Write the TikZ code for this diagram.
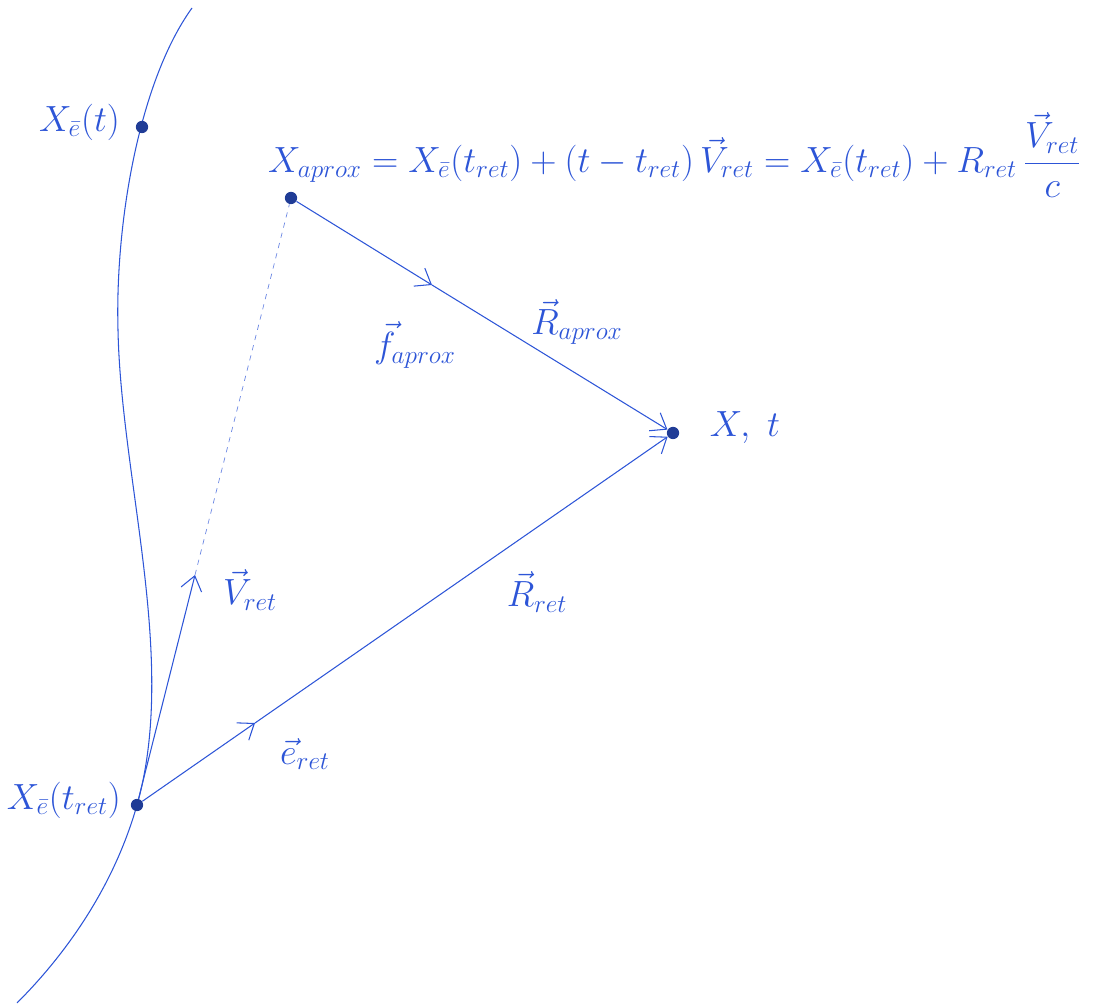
\documentclass[tikz,border=0pt]{standalone}
\usepackage{amsmath}
\definecolor{ink}{RGB}{45,85,215}
\tikzset{
  dot/.style={circle,fill=ink!70!black,inner sep=0pt,minimum size=7pt},
  lbl/.style={text=ink,font=\huge},
  vec/.style={draw=ink,semithick,-{Straight Barb[length=8pt,width=12pt]}},
}
\usetikzlibrary{arrows.meta}
\begin{document}
\begin{tikzpicture}[x=0.02cm,y=-0.02cm]
    \useasboundingbox (0,0) rectangle (1093,1006);
    % world line of the charge
    \draw[ink,semithick] (192,8) .. controls (140,80) and (115,220) .. (118,330)
        .. controls (121,480) and (178,660) .. (137,805)
        .. controls (112,893) and (60,960) .. (17,1003);
    % points
    \node[dot] (xt) at (142,127) {};
    \node[dot] (xap) at (291,198) {};
    \node[dot] (xobs) at (673,433) {};
    \node[dot] (xret) at (137,805) {};
    \coordinate (vtip) at (195,575);
    \coordinate (emid) at (255,723);
    \coordinate (amid) at (432,285);
    % labels
    \node[lbl,anchor=east] (lxt) at (126,122) {$X_{\bar e}(t)$};
    \node[lbl,anchor=east] (lxret) at (127,800) {$X_{\bar e}(t_{ret})$};
    \node[lbl] (lxobs) at (745,428) {$X,\ t$};
    \node[lbl,anchor=west] (eq) at (262,155) {$X_{aprox} = X_{\bar e}(t_{ret}) + (t-t_{ret})\,\vec V_{ret} = X_{\bar e}(t_{ret}) + R_{ret}\,\dfrac{\vec V_{ret}}{c}$};
    \node[lbl] (lv) at (250,590) {$\vec V_{ret}$};
    \node[lbl] (le) at (305,754) {$\vec e_{ret}$};
    \node[lbl] (lr) at (537,592) {$\vec R_{ret}$};
    \node[lbl] (lra) at (577,322) {$\vec R_{aprox}$};
    \node[lbl] (lfa) at (415,345) {$\vec f_{aprox}$};
    % vectors
    \draw[vec] (xret) -- (vtip);
    \draw[ink!70,thin,dashed] (vtip) -- (xap);
    \draw[vec] (xret) -- (emid);
    \draw[vec] (emid) -- (xobs);
    \draw[vec] (xap) -- (amid);
    \draw[vec] (amid) -- (xobs);
\end{tikzpicture}
\end{document}
